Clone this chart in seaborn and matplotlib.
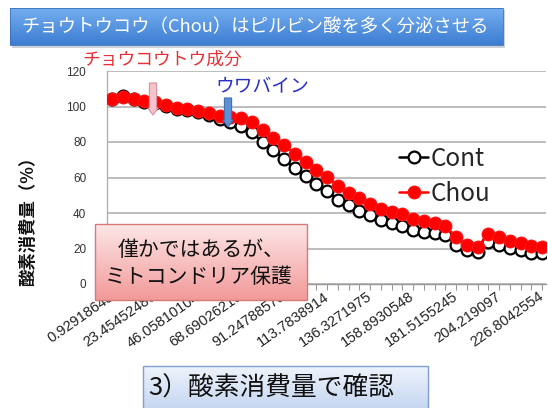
import numpy as np
import pandas as pd
import matplotlib
matplotlib.use('Agg')
import matplotlib.pyplot as plt
import seaborn as sns
from matplotlib.patches import Rectangle, Polygon
from matplotlib.colors import LinearSegmentedColormap

# ---------------- data ----------------
series_names = ['Cont', 'Chou']
cont = [104.0, 105.8, 104.0, 102.8, 102.0, 100.4, 98.8, 98.0, 96.8, 95.0,
        93.2, 91.5, 88.8, 85.6, 80.0, 75.5, 70.4, 65.1, 60.6, 56.3,
        52.4, 47.5, 44.5, 41.1, 38.9, 36.3, 34.4, 32.7, 30.4, 29.3,
        28.7, 27.6, 22.0, 19.2, 18.0, 23.7, 22.0, 20.3, 19.2, 17.5, 17.5]
chou = [104.2, 105.4, 104.2, 103.1, 102.5, 100.8, 99.2, 98.6, 97.5, 96.3,
        94.6, 94.1, 93.5, 91.3, 86.8, 82.3, 78.3, 73.5, 68.7, 64.2,
        60.5, 55.2, 51.5, 48.7, 45.1, 42.3, 40.6, 39.4, 36.9, 35.5,
        34.4, 32.7, 26.5, 22.0, 20.6, 28.2, 26.5, 24.5, 23.1, 21.4, 20.6]
tick_labels = ['0.92918648', '23.45452486', '46.05810104', '68.69026219',
               '91.24788575', '113.7838914', '136.3271975', '158.8930548',
               '181.5155245', '204.219097', '226.8042554']
tick_step = 4
y_ticks = [0, 20, 40, 60, 80, 100, 120]

title_text = 'チョウトウコウ（Chou）はピルビン酸を多く分泌させる'
red_note = 'チョウコウトウ成分'
blue_note = 'ウワバイン'
box_lines = ['僅かではあるが、', 'ミトコンドリア保護']
bottom_text = '3）酸素消費量で確認'
y_label = '酸素消費量（%）'

# ---------------- style ----------------
sns.set_theme(style='white')
plt.rcParams['font.family'] = ['Noto Sans CJK JP', 'DejaVu Sans']

W, H = 548, 408
fig = plt.figure(figsize=(W / 100, H / 100), dpi=100)
fig.patch.set_facecolor('white')

ax_l, ax_r, ax_t, ax_b = 107, 546, 71, 284
ax = fig.add_axes([ax_l / W, 1 - ax_b / H, (ax_r - ax_l) / W, (ax_b - ax_t) / H])

n = len(chou)
df = pd.DataFrame({
    'pos': list(range(n)) * 2,
    'val': cont + chou,
    'series': [series_names[0]] * n + [series_names[1]] * n,
})

sns.lineplot(data=df[df.series == 'Cont'], x='pos', y='val', ax=ax,
             color='black', lw=1.8, marker='o', markersize=8.5,
             markerfacecolor='white', markeredgecolor='black',
             markeredgewidth=1.6, label='Cont', zorder=3)
sns.lineplot(data=df[df.series == 'Chou'], x='pos', y='val', ax=ax,
             color='#ff0000', lw=1.8, marker='o', markersize=9,
             markerfacecolor='#ff0000', markeredgecolor='#ff1010',
             markeredgewidth=1.0, label='Chou', zorder=4)

ax.set_xlim(-0.465, 40.37)
ax.set_ylim(0, 120)
ax.set_yticks(y_ticks)
ax.set_yticklabels([str(v) for v in y_ticks], fontsize=8.5, color='#333333',
                   family='Liberation Sans')
ax.tick_params(axis='y', length=0, pad=15)
ax.yaxis.grid(True, color='#b8b8b8', lw=1.3)
ax.set_xlabel('')
ax.set_ylabel('')

major = list(range(0, n, tick_step))
ax.set_xticks(major)
ax.set_xticklabels(tick_labels, rotation=35, ha='right', va='center',
                   rotation_mode='anchor', fontsize=10.5, color='#222222',
                   family='Liberation Sans')
ax.set_xticks(list(range(n)), minor=True)
ax.tick_params(axis='x', which='both', direction='out', length=4,
               width=0.8, color='#9a9a9a', bottom=True, pad=4)

for s in ['top', 'right']:
    ax.spines[s].set_visible(False)
ax.spines['left'].set_color('#b0b0b0')
ax.spines['left'].set_linewidth(1.0)
ax.spines['bottom'].set_color('#9a9a9a')
ax.spines['bottom'].set_linewidth(1.0)

leg = ax.legend(loc='upper left', bbox_to_anchor=(0.665, 0.65), frameon=False,
                fontsize=17.5, handlelength=1.2, handletextpad=0.1,
                labelspacing=0.38, borderpad=0, borderaxespad=0)

# ---------------- overlay (pixel coordinates) ----------------
ov = fig.add_axes([0, 0, 1, 1], zorder=10)
ov.patch.set_alpha(0)
ov.axis('off')


def grad_box(x0, y0, x1, y1, c_top, c_bot, edge=None, lw=1.0, z=1):
    cmap = LinearSegmentedColormap.from_list('g', [c_top, c_bot])
    g = np.linspace(0, 1, 64).reshape(-1, 1)
    ov.imshow(g, extent=(x0, x1, y1, y0), origin='upper', aspect='auto',
              cmap=cmap, zorder=z, interpolation='bilinear')
    if edge is not None:
        ov.add_patch(Rectangle((x0, y0), x1 - x0, y1 - y0, fill=False,
                               edgecolor=edge, lw=lw, zorder=z + 0.1))


# title bar with shadow
ov.add_patch(Rectangle((12, 10), 493, 38, facecolor='#9aa6b4', alpha=0.5,
                       edgecolor='none', zorder=0.5))
grad_box(10, 8, 503, 45, '#74aef0', '#3d7dd2', edge='#3a70b8', lw=0.6)
ov.text(21, 27, title_text, color='white', fontsize=13.2, ha='left',
        va='center', zorder=3)

# annotations
ov.text(82, 59.5, red_note, color='#e53035', fontsize=12.8, ha='left',
        va='center', zorder=3)
ov.text(215, 87, blue_note, color='#2b2fc4', fontsize=13.5, ha='left',
        va='center', zorder=3)


def down_arrow(xc, ytop, ybot, face, edge):
    sw, hw, hl = 3.6, 5.2, 7
    pts = [(xc - sw, ytop), (xc + sw, ytop), (xc + sw, ybot - hl),
           (xc + hw, ybot - hl), (xc, ybot), (xc - hw, ybot - hl),
           (xc - sw, ybot - hl)]
    ov.add_patch(Polygon(pts, closed=True, facecolor=face, edgecolor=edge,
                         lw=0.8, zorder=3))


down_arrow(153, 83, 115, '#f7c3cb', '#d4909c')
down_arrow(228, 98, 127, '#5b8fd6', '#3f6fb0')

# pink note box
grad_box(95, 224, 307, 300, '#fde6e6', '#f29a9a', edge='#d87878', lw=1.0, z=2)
ov.text(201, 250, box_lines[0], color='#111111', fontsize=15, ha='center',
        va='center', zorder=4)
ov.text(199, 277, box_lines[1], color='#111111', fontsize=15, ha='center',
        va='center', zorder=4)

# y label
ov.text(28, 217, y_label, rotation=90, color='#111111', fontsize=12.5,
        fontweight='bold', ha='center', va='center', zorder=4)

# bottom box
grad_box(143, 366, 428, 410, '#eef3fc', '#c4d6f0', edge='#7c9fd0', lw=1.0, z=2)
ov.text(148, 389, bottom_text, color='#111111', fontsize=18.5, ha='left',
        va='center', zorder=4)

ov.set_xlim(0, W)
ov.set_ylim(H, 0)

fig.savefig('out.png', dpi=100)
